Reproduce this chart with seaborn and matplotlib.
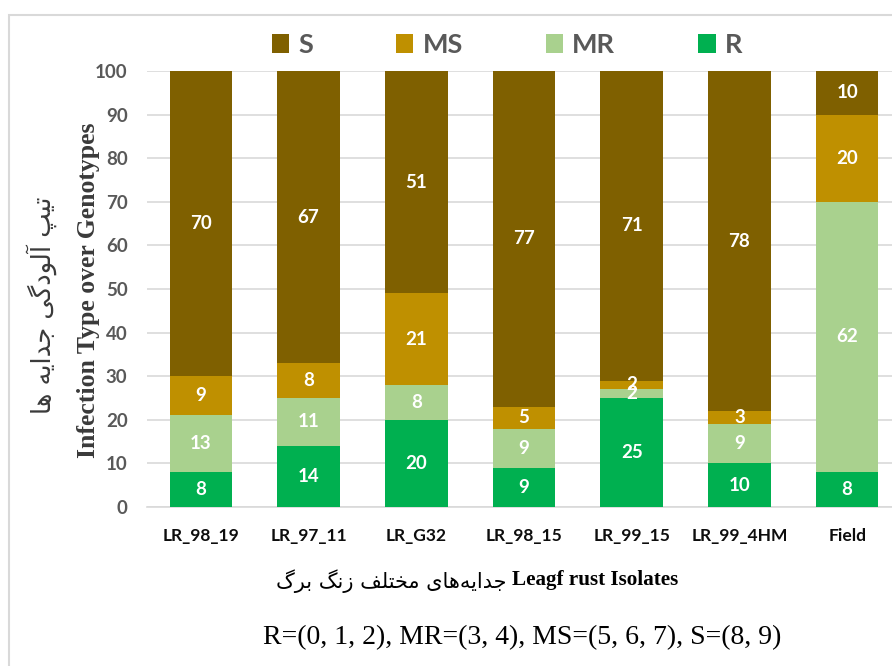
import numpy as np
import pandas as pd
import matplotlib
matplotlib.use("Agg")
import matplotlib.pyplot as plt
from matplotlib.patches import Patch, Rectangle
import seaborn as sns

# ---- data ----
isolates = ["LR_98_19", "LR_97_11", "LR_G32", "LR_98_15", "LR_99_15", "LR_99_4HM", "Field"]
R_vals = [8, 14, 20, 9, 25, 10, 8]
MR_vals = [13, 11, 8, 9, 2, 9, 62]
MS_vals = [9, 8, 21, 5, 2, 3, 20]
S_vals = [70, 67, 51, 77, 71, 78, 10]
series_names = ["R", "MR", "MS", "S"]
legend_order = ["S", "MS", "MR", "R"]
yticks = list(range(0, 101, 10))

# Persian text (visual order, contextual presentation forms)
ylabel_fa = "\uFE8E\uFEEB \uFEEA\uFBFE\uFE8D\uFEAA\uFE9F \uFBFD\uFB94\uFEA9\uFEEE\uFEDF\uFE81 \uFB57\uFBFF\uFE97"  # تیپ آلودگی جدایه ها
ylabel_en = "Infection Type over Genotypes"
xlabel_fa = "\uFB92\uFEAE\uFE91 \uFB93\uFEE7\uFEAF \uFED2\uFEE0\uFE98\uFEA8\uFEE3 \uFBFC\uFE8E\uFEEB\uFEEA\uFBFE\uFE8D\uFEAA\uFE9F"  # جدایه‌های مختلف زنگ برگ
xlabel_en = "Leagf rust Isolates"
footnote = "R=(0, 1, 2), MR=(3, 4), MS=(5, 6, 7), S=(8, 9)"

colors = {"S": "#7F6000", "MS": "#BF9000", "MR": "#A9D18E", "R": "#00B050"}

df = pd.DataFrame({"isolate": isolates, "R": R_vals, "MR": MR_vals, "MS": MS_vals, "S": S_vals})

sns.set_theme(style="white")
plt.rcParams["font.family"] = ["Lato", "DejaVu Sans"]

W, H = 892, 666
fig = plt.figure(figsize=(W / 100, H / 100), dpi=100)
ax = fig.add_axes([147 / W, (H - 507) / H, (901 - 147) / W, 436 / H])

bottom = np.zeros(len(isolates))
for name in series_names:
    vals = df[name].to_numpy()
    sns.barplot(data=df, x="isolate", y=name, color=colors[name], saturation=1,
                width=0.58, bottom=bottom, ax=ax, linewidth=0, zorder=3)
    ax.bar_label(ax.containers[-1], labels=[str(v) for v in vals], label_type="center",
                 color="white", fontweight="bold", fontsize=13.5, zorder=5)
    bottom = bottom + vals

ax.set_ylim(0, 100)
ax.set_xlim(-0.5, len(isolates) - 0.5)
ax.set_yticks(yticks)
ax.set_yticklabels([str(t) for t in yticks])
ax.yaxis.grid(True, color="#D9D9D9", linewidth=1.2, zorder=0)
ax.set_axisbelow(True)
for s in ["left", "right", "top"]:
    ax.spines[s].set_visible(False)
ax.spines["bottom"].set_color("#D9D9D9")
ax.spines["bottom"].set_linewidth(1.2)
ax.tick_params(axis="y", length=0, pad=14, labelsize=13.5, labelcolor="#595959")
ax.tick_params(axis="x", length=0, pad=15, labelsize=12.5, labelcolor="#0d0d0d")
for lab in ax.get_yticklabels() + ax.get_xticklabels():
    lab.set_fontweight("bold")
ax.set_xlabel("")
ax.set_ylabel("")

# legend
handles = [Patch(facecolor=colors[n], edgecolor="none", label=n) for n in legend_order]
leg = fig.legend(handles=handles, loc="center", bbox_to_anchor=(507 / W, 1 - 45 / H), ncol=4,
                 frameon=False, fontsize=19.5, handlelength=0.65, handleheight=0.65,
                 handletextpad=0.34, columnspacing=3.05, borderaxespad=0)
for t in leg.get_texts():
    t.set_color("#595959")
    t.set_fontweight("bold")

# axis titles
fig.text(42 / W, 1 - 305 / H, ylabel_fa, rotation=90, ha="center", va="center",
         family="DejaVu Sans", fontsize=18.5, color="#3a3a3a")
fig.text(89 / W, 1 - 290 / H, ylabel_en, rotation=90, ha="center", va="center",
         family="Liberation Serif", fontweight="bold", fontsize=18.5, color="#3a3a3a")
fig.text(506 / W, 1 - 581 / H, xlabel_fa, ha="right", va="center",
         family="DejaVu Sans", fontsize=15, color="black")
fig.text(512 / W, 1 - 580 / H, xlabel_en, ha="left", va="center",
         family="Liberation Serif", fontweight="bold", fontsize=15.2, color="black")
fig.text(522 / W, 1 - 638 / H, footnote, ha="center", va="center",
         family="Liberation Serif", fontsize=20, color="black")

# outer frame
frame = Rectangle((8.5 / W, -0.1), 1.2, 1.1 - 14.5 / H, transform=fig.transFigure,
                  fill=False, edgecolor="#D9D9D9", linewidth=1.5, clip_on=False)
fig.patches.append(frame)

fig.savefig("out.png", dpi=100, facecolor="white")
